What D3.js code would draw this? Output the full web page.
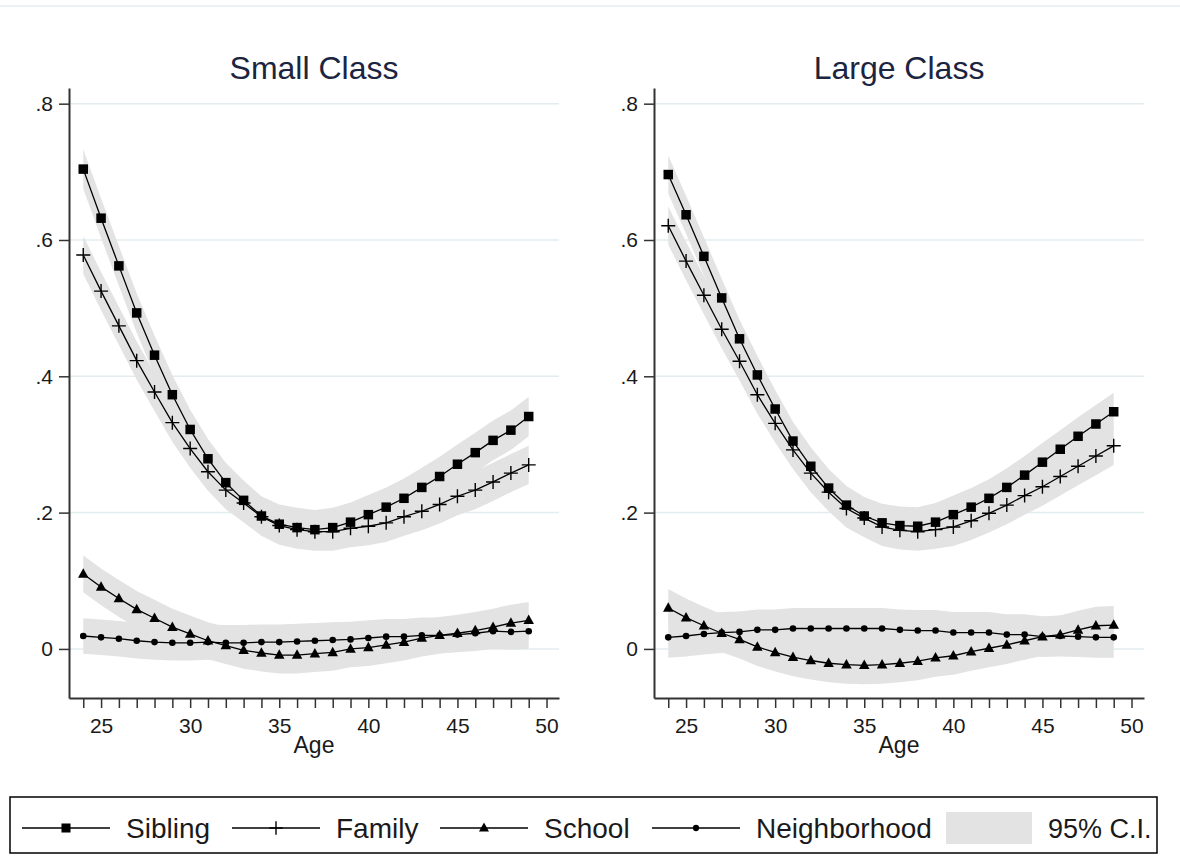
<!DOCTYPE html>
<html><head><meta charset="utf-8">
<script src="https://cdn.jsdelivr.net/npm/d3@7"></script>
<style>
body{margin:0;background:#fff;}
svg{display:block;font-family:"Liberation Sans",Arial,sans-serif;}
</style>
</head><body>
<svg id="c" width="1180" height="856"></svg>
<script>
// ---- data ----
const ages = [24,25,26,27,28,29,30,31,32,33,34,35,36,37,38,39,40,41,42,43,44,45,46,47,48,49];
const panelTitles = ["Small Class", "Large Class"];
const seriesNames = ["Sibling", "Family", "School", "Neighborhood"];
const ciLabel = "95% C.I.";
const xAxisTitle = "Age";
const yTickValues = [0, 0.2, 0.4, 0.6, 0.8];
const yTickLabels = ["0", ".2", ".4", ".6", ".8"];
const xTickValues = [24,25,26,27,28,29,30,31,32,33,34,35,36,37,38,39,40,41,42,43,44,45,46,47,48,49,50];
const xTickLabeled = [25,30,35,40,45,50];

const smallSibling = [.704,.632,.562,.493,.431,.373,.322,.279,.244,.218,.195,.183,.178,.175,.178,.186,.197,.208,.221,.237,.253,.271,.288,.306,.321,.341];
const smallFamily  = [.578,.525,.474,.423,.377,.332,.294,.260,.233,.214,.194,.181,.175,.172,.172,.177,.180,.185,.194,.202,.212,.224,.233,.245,.258,.270];
const smallSchool  = [.110,.091,.074,.058,.045,.032,.022,.012,.005,-.002,-.006,-.009,-.009,-.007,-.005,.000,.002,.006,.010,.016,.020,.023,.027,.032,.038,.042];
const smallNeighborhood = [.019,.017,.015,.012,.010,.009,.009,.010,.009,.009,.010,.010,.011,.012,.013,.014,.016,.018,.018,.020,.020,.021,.023,.026,.025,.026];
const smallCI = [.029, .028, .027, .026];

const largeSibling = [.696,.637,.576,.515,.455,.402,.352,.305,.268,.236,.211,.195,.185,.181,.180,.186,.197,.208,.221,.237,.255,.274,.293,.312,.330,.348];
const largeFamily  = [.621,.569,.519,.469,.422,.373,.331,.292,.258,.230,.206,.192,.179,.174,.172,.175,.179,.188,.199,.211,.225,.238,.253,.268,.283,.298];
const largeSchool  = [.060,.046,.034,.023,.014,.003,-.005,-.012,-.017,-.021,-.023,-.024,-.023,-.021,-.018,-.013,-.010,-.004,.001,.006,.012,.018,.021,.028,.034,.035];
const largeNeighborhood = [.017,.019,.022,.024,.025,.028,.028,.030,.030,.030,.030,.030,.030,.028,.027,.027,.024,.024,.024,.021,.021,.018,.019,.018,.017,.017];
const largeCI = [.028, .028, .028, .030];

// ---- drawing ----
const svg = d3.select("#c");
const markerTypes = ["square", "plus", "triangle", "circle"];
const bandColor = "#e3e3e3";
const gridColor = "#e2edf0";
const textColor = "#1a1a1a";

// faint top border line
svg.append("rect").attr("x", 0).attr("y", 5).attr("width", 1180).attr("height", 2).attr("fill", "#edf1f3");

function drawMarker(g, type, cx, cy, scale) {
  const k = scale || 1;
  if (type === "square") {
    const s = 9.5 * k;
    g.append("rect").attr("x", cx - s/2).attr("y", cy - s/2).attr("width", s).attr("height", s).attr("fill", "#000");
  } else if (type === "plus") {
    const a = 7 * k;
    g.append("path").attr("d", `M${cx-a},${cy}H${cx+a}M${cx},${cy-a}V${cy+a}`)
      .attr("stroke", "#000").attr("stroke-width", 1.4).attr("fill", "none");
  } else if (type === "triangle") {
    const w = 10.5 * k, h = 9.5 * k;
    g.append("path").attr("d", `M${cx},${cy-h*0.6}L${cx+w/2},${cy+h*0.4}L${cx-w/2},${cy+h*0.4}Z`).attr("fill", "#000");
  } else {
    g.append("circle").attr("cx", cx).attr("cy", cy).attr("r", 3.3 * k).attr("fill", "#000");
  }
}

function drawPanel(title, seriesVals, ciVals, x0, x1) {
  const g = svg.append("g");
  const x = d3.scaleLinear().domain([23.2, 50.7]).range([x0, x1]);
  const y = d3.scaleLinear().domain([-0.072, 0.823]).range([698, 88]);

  // gridlines
  g.selectAll("line.grid").data(yTickValues).join("line")
    .attr("x1", x0).attr("x2", x1)
    .attr("y1", d => y(d)).attr("y2", d => y(d))
    .attr("stroke", gridColor).attr("stroke-width", 1.5);

  // CI bands
  seriesVals.forEach((vals, si) => {
    const area = d3.area()
      .x((d, i) => x(ages[i]))
      .y0(d => y(d - ciVals[si]))
      .y1(d => y(d + ciVals[si]));
    g.append("path").datum(vals).attr("d", area).attr("fill", bandColor);
  });

  // lines + markers
  seriesVals.forEach((vals, si) => {
    const line = d3.line().x((d, i) => x(ages[i])).y(d => y(d));
    g.append("path").datum(vals).attr("d", line).attr("fill", "none")
      .attr("stroke", "#000").attr("stroke-width", 1.3);
    const mg = g.append("g");
    vals.forEach((v, i) => drawMarker(mg, markerTypes[si], x(ages[i]), y(v)));
  });

  // y axis
  const yAxis = d3.axisLeft(y).tickValues(yTickValues)
    .tickFormat((d, i) => yTickLabels[i]).tickSize(10).tickPadding(6).tickSizeOuter(0);
  const ya = g.append("g").attr("transform", `translate(${x0},0)`).call(yAxis);
  ya.select(".domain").attr("stroke", "#333").attr("stroke-width", 2);
  ya.selectAll(".tick line").attr("stroke", "#333").attr("stroke-width", 1.5);
  ya.selectAll("text").attr("font-size", 21).attr("fill", textColor)
    .attr("font-family", '"Liberation Sans",Arial,sans-serif');

  // x axis
  const xAxis = d3.axisBottom(x).tickValues(xTickValues)
    .tickFormat(d => xTickLabeled.includes(d) ? String(d) : "")
    .tickSize(10).tickPadding(10).tickSizeOuter(0);
  const xa = g.append("g").attr("transform", `translate(0,698)`).call(xAxis);
  xa.select(".domain").attr("stroke", "#333").attr("stroke-width", 2);
  xa.selectAll(".tick line").attr("stroke", "#333").attr("stroke-width", 1.5);
  xa.selectAll("text").attr("font-size", 21).attr("fill", textColor)
    .attr("font-family", '"Liberation Sans",Arial,sans-serif');

  // axis title
  g.append("text").attr("x", (x0 + x1) / 2).attr("y", 753).attr("text-anchor", "middle")
    .attr("font-size", 23).attr("fill", textColor).text(xAxisTitle);

  // panel title
  g.append("text").attr("x", (x0 + x1) / 2).attr("y", 79).attr("text-anchor", "middle")
    .attr("font-size", 32).attr("fill", "#1c2540").text(title);
}

drawPanel(panelTitles[0], [smallSibling, smallFamily, smallSchool, smallNeighborhood], smallCI, 69, 559);
drawPanel(panelTitles[1], [largeSibling, largeFamily, largeSchool, largeNeighborhood], largeCI, 654, 1144);

// ---- legend ----
const lg = svg.append("g");
lg.append("rect").attr("x", 10).attr("y", 797).attr("width", 1147).attr("height", 56)
  .attr("fill", "#fff").attr("stroke", "#000").attr("stroke-width", 1.5);
const legendLineStarts = [22, 232, 440, 652];
const ly = 828;
seriesNames.forEach((name, i) => {
  const sx = legendLineStarts[i];
  lg.append("line").attr("x1", sx).attr("x2", sx + 88).attr("y1", ly).attr("y2", ly)
    .attr("stroke", "#000").attr("stroke-width", 1.6);
  drawMarker(lg, markerTypes[i], sx + 44, ly, 0.95);
  lg.append("text").attr("x", sx + 104).attr("y", ly + 10).attr("font-size", 28)
    .attr("fill", textColor).text(name);
});
lg.append("rect").attr("x", 946).attr("y", 812).attr("width", 86).attr("height", 32).attr("fill", bandColor);
lg.append("text").attr("x", 1048).attr("y", ly + 10).attr("font-size", 27).attr("fill", textColor).text(ciLabel);
</script>
</body></html>
